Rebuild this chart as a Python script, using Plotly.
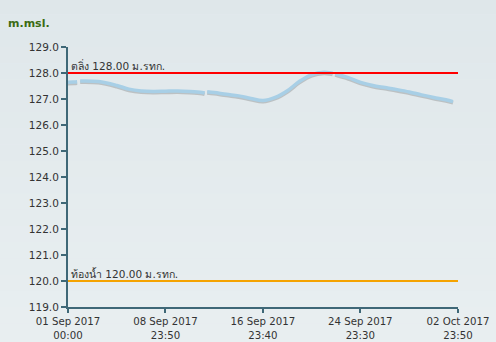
import plotly.graph_objects as go

# ---- data ----
times = [
    "2017-09-01 00:00", "2017-09-01 12:00", "2017-09-01 18:00", "2017-09-01 20:00",
    "2017-09-02 00:00", "2017-09-03 12:00", "2017-09-05 00:00", "2017-09-06 00:00",
    "2017-09-07 00:00", "2017-09-08 00:00", "2017-09-09 00:00", "2017-09-10 00:00",
    "2017-09-11 00:00", "2017-09-12 00:00", "2017-09-12 05:00", "2017-09-12 07:00",
    "2017-09-12 10:00", "2017-09-13 00:00", "2017-09-14 00:00", "2017-09-15 00:00",
    "2017-09-16 00:00", "2017-09-17 00:00", "2017-09-18 00:00", "2017-09-19 00:00",
    "2017-09-20 00:00", "2017-09-21 00:00", "2017-09-22 00:00", "2017-09-22 12:00",
    "2017-09-22 17:00", "2017-09-22 19:00",
    "2017-09-22 22:00", "2017-09-24 00:00", "2017-09-25 00:00", "2017-09-26 00:00",
    "2017-09-27 00:00", "2017-09-28 00:00", "2017-09-29 00:00", "2017-09-30 00:00",
    "2017-10-01 00:00", "2017-10-02 00:00", "2017-10-02 14:00",
]
levels = [
    127.64, 127.65, 127.66, None,
    127.69, 127.67, 127.52, 127.38,
    127.31, 127.29, 127.30, 127.31,
    127.29, 127.25, 127.23, None,
    127.28, 127.25, 127.18, 127.12,
    127.02, 126.94, 127.06, 127.32,
    127.68, 127.94, 128.03, 128.01,
    127.99, None,
    127.97, 127.82, 127.64, 127.52,
    127.44, 127.36, 127.27, 127.16,
    127.06, 126.97, 126.90,
]

bank_level = 128.00
bed_level = 120.00
bank_label = "ตลิ่ง 128.00 ม.รทก."
bed_label = "ท้องน้ำ 120.00 ม.รทก."

x_start = "2017-09-01 00:00"
x_end = "2017-10-02 23:50"
x_tickvals = ["2017-09-01 00:00", "2017-09-08 23:50", "2017-09-16 23:40",
              "2017-09-24 23:30", "2017-10-02 23:50"]
x_ticktext = ["01 Sep 2017<br>00:00", "08 Sep 2017<br>23:50", "16 Sep 2017<br>23:40",
              "24 Sep 2017<br>23:30", "02 Oct 2017<br>23:50"]
y_tickvals = [119, 120, 121, 122, 123, 124, 125, 126, 127, 128, 129]

FONT = "DejaVu Sans, Noto Sans, sans-serif"
AX = "#3f6877"

fig = go.Figure()

# shadow of water level line
shadow = [None if v is None else v - 0.05 for v in levels]
fig.add_trace(go.Scatter(x=times, y=shadow, mode="lines",
                         line=dict(color="rgba(90,90,90,0.28)", width=3.5, shape="spline"),
                         hoverinfo="skip", showlegend=False))
fig.add_trace(go.Scatter(x=times, y=levels, mode="lines",
                         line=dict(color="#a8cfe6", width=3.5, shape="spline"),
                         showlegend=False))

# reference lines
fig.add_trace(go.Scatter(x=[x_start, x_end], y=[bank_level, bank_level], mode="lines",
                         line=dict(color="#ff0000", width=2), showlegend=False))
fig.add_trace(go.Scatter(x=[x_start, x_end], y=[bed_level, bed_level], mode="lines",
                         line=dict(color="#f5a300", width=2), showlegend=False))

# background gradient bands
shapes = []
n = 24
c0 = (223, 231, 234)
c1 = (233, 239, 241)
for i in range(n):
    t = i / (n - 1)
    c = tuple(int(round(c0[k] + (c1[k] - c0[k]) * t)) for k in range(3))
    shapes.append(dict(type="rect", xref="paper", yref="paper", layer="below",
                       x0=-0.2, x1=1.2, y0=1.25 - (i + 1) * 1.5 / n, y1=1.25 - i * 1.5 / n,
                       fillcolor="rgb(%d,%d,%d)" % c, line=dict(width=0)))

fig.update_layout(
    width=496, height=342,
    margin=dict(l=68, r=38, t=47, b=35),
    paper_bgcolor="#e4ebee", plot_bgcolor="rgba(0,0,0,0)",
    font=dict(family=FONT, size=11, color="#333333"),
    shapes=shapes,
    annotations=[
        dict(text="<b>m.msl.</b>", xref="paper", yref="paper", x=-0.16, y=1.09,
             xanchor="left", yanchor="middle", showarrow=False,
             font=dict(family=FONT, size=11, color="#3b6b12")),
        dict(text=bank_label, x=x_start, y=bank_level, xanchor="left", yanchor="bottom",
             xshift=1, yshift=-1, showarrow=False, font=dict(family=FONT, size=10.5, color="#333333")),
        dict(text=bed_label, x=x_start, y=bed_level, xanchor="left", yanchor="bottom",
             xshift=1, yshift=-1, showarrow=False, font=dict(family=FONT, size=10.5, color="#333333")),
    ],
    xaxis=dict(type="date", range=[x_start, x_end], tickvals=x_tickvals, ticktext=x_ticktext,
               automargin=False, ticklabelstandoff=0,
               showgrid=False, zeroline=False, showline=True, linecolor=AX, linewidth=2,
               ticks="outside", tickcolor=AX, tickwidth=2, ticklen=4,
               tickfont=dict(family=FONT, size=10.2, color="#333333")),
    yaxis=dict(range=[119, 129], tickvals=y_tickvals, tickformat=".1f", automargin=False,
               showgrid=False, zeroline=False, showline=True, linecolor=AX, linewidth=2,
               ticks="outside", tickcolor=AX, tickwidth=2, ticklen=5,
               tickfont=dict(family=FONT, size=10.5, color="#333333")),
)

fig.write_html("out.html")
